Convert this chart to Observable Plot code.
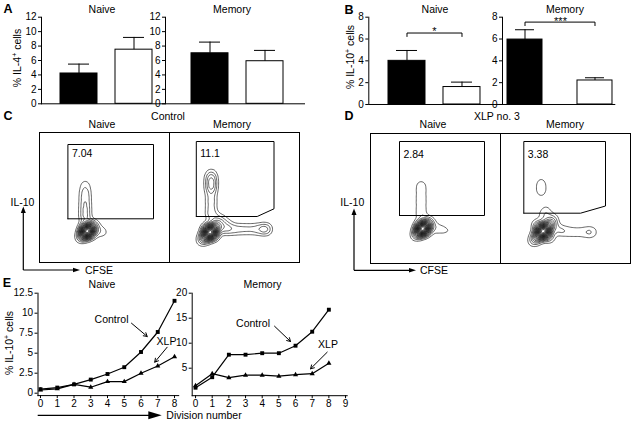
<!DOCTYPE html>
<html><head><meta charset="utf-8">
<script src="https://cdn.jsdelivr.net/npm/d3@7"></script>
<script src="https://cdn.jsdelivr.net/npm/@observablehq/plot@0.6"></script>
<style>
body{margin:0;background:#fff;}
#fig{position:relative;width:638px;height:425px;overflow:hidden;font-family:"Liberation Sans",Arial,Helvetica,sans-serif;color:#000;background:#fff;}
.t{position:absolute;font-size:10.5px;white-space:nowrap;line-height:1;transform:translate(-50%,-50%);}
.r{transform:translate(-50%,-50%) rotate(-90deg);}
.L{font-weight:bold;font-size:12.5px;}
.sup{font-size:7px;vertical-align:4px;}
</style></head><body>
<div id="fig">
<div class="t L" style="left:8px;top:9px">A</div>
<div class="t L" style="left:349px;top:9.5px">B</div>
<div class="t L" style="left:8px;top:116px">C</div>
<div class="t L" style="left:349px;top:116px">D</div>
<div class="t L" style="left:7px;top:283px">E</div>
<div class="t" style="left:102px;top:8.5px">Naive</div>
<div class="t" style="left:232px;top:8.5px">Memory</div>
<div class="t" style="left:435px;top:8.5px">Naive</div>
<div class="t" style="left:565px;top:8.5px">Memory</div>
<div class="t r" style="left:17px;top:58px">% IL-4<span class="sup">+</span> cells</div>
<div class="t r" style="left:350px;top:57px">% IL-10<span class="sup">+</span> cells</div>
<div class="t" style="left:434.5px;top:31px;font-size:11px">*</div>
<div class="t" style="left:560.5px;top:21px;font-size:11px">***</div>
<div class="t" style="left:168px;top:115.7px">Control</div>
<div class="t" style="left:102px;top:124px">Naive</div>
<div class="t" style="left:232px;top:124px">Memory</div>
<div class="t" style="left:497px;top:115.7px">XLP no. 3</div>
<div class="t" style="left:433px;top:124px">Naive</div>
<div class="t" style="left:565px;top:124px">Memory</div>
<div class="t" style="left:22.5px;top:201.7px">IL-10</div>
<div class="t" style="left:99px;top:270px">CFSE</div>
<div class="t" style="left:352.3px;top:201.7px">IL-10</div>
<div class="t" style="left:434px;top:270.3px">CFSE</div>
<div class="t" style="left:102px;top:284px">Naive</div>
<div class="t" style="left:262.5px;top:284px">Memory</div>
<div class="t r" style="left:9px;top:343px">% IL-10<span class="sup">+</span> cells</div>
<div class="t" style="left:204px;top:415px">Division number</div>
<svg width="638" height="425" style="position:absolute;left:0;top:0;overflow:visible">
 <g stroke="black" stroke-width="1.2" fill="none">
  <path d="M23.3,270 V212 M23.3,270 H74"/>
  <path d="M354,270.3 V214 M354,270.3 H410"/>
  <path d="M37.7,415.3 H150"/>
 </g>
 <g fill="black">
  <path d="M20.8,213 L23.3,206.5 L25.8,213Z"/>
  <path d="M73,267.7 L80,270 L73,272.3Z"/>
  <path d="M351.5,215 L354,208.5 L356.5,215Z"/>
  <path d="M409,268 L416,270.3 L409,272.6Z"/>
  <path d="M148.3,411.3 L161.7,415.3 L148.3,419.3Z"/>
 </g>
</svg>
</div>
<script>
// ---------- data ----------
const groups = ["Control", "XLP"];
const il4Naive = [4.2, 7.5], il4NaiveErr = [5.5, 9.2];
const il4Memory = [7.0, 5.9], il4MemoryErr = [8.55, 7.4];
const il10Naive = [4.0, 1.6], il10NaiveErr = [4.95, 2.05];
const il10Memory = [5.95, 2.2], il10MemoryErr = [6.85, 2.45];
const il4Ticks = [0, 2, 4, 6, 8, 10, 12];
const il10Ticks = [0, 2, 4, 6, 8];
const bracketNaive = 6.55, bracketMemory = 7.55;

const divisions = [0, 1, 2, 3, 4, 5, 6, 7, 8];
const naiveControl = [0.5, 0.7, 1.1, 1.7, 2.4, 3.25, 5.15, 7.65, 11.55];
const naiveXLP = [0.4, 0.55, 1.1, 0.75, 1.45, 1.45, 2.5, 3.4, 4.55];
const memoryControl = [1.1, 3.2, 7.7, 7.7, 8.0, 8.0, 9.5, 12.3, 16.7];
const memoryXLP = [1.5, 3.9, 3.1, 3.6, 3.6, 3.4, 3.7, 3.9, 6.0];
const naiveTicksY = [0, 2.5, 5, 7.5, 10, 12.5];
const memoryTicksY = [5, 10, 15, 20];
const naiveTicksX = [0, 1, 2, 3, 4, 5, 6, 7, 8];
const memoryTicksX = [0, 1, 2, 3, 4, 5, 6, 7, 8, 9];
const naiveNotes = [
  {label: "Control", lx: 4.24, ly: 9.21, x1: 5.43, y1: 8.75, x2: 6.37, y2: 7.09},
  {label: "XLP", lx: 7.52, ly: 6.5, x1: 7.56, y1: 5.75, x2: 6.82, y2: 3.88}
];
const memoryNotes = [
  {label: "Control", lx: 3.45, ly: 13.88, x1: 4.74, y1: 13.4, x2: 5.70, y2: 10.34},
  {label: "XLP", lx: 7.95, ly: 9.68, x1: 7.90, y1: 8.2, x2: 6.9, y2: 4.88}
];

// flow cytometry: representative event clusters [CFSE, IL-10, weight] (panel units)
const cNaiveEvents = [[40.9,23.9,1.0],[43.8,26.8,2.5],[45.9,28.9,4],[48,31,5],[48,31,6],[50.1,33.1,4],[52.2,35.2,2.5],[55.1,38.1,1.0],[45.2,33.8,1.5],[50.8,28.2,1.5],
  [59,31,1.3],[65,30,0.8],[78,27,0.95],
  [46,44,2.0],[46,50,1.8],[46,56,1.7],[46,62,1.6],[46,68,1.5],[46,74,1.2],[46,80,0.6]];
const cMemoryEvents = [[32.5,21.5,1.2],[35.3,24.3,2.5],[38.2,27.2,4],[41,30,5],[41,30,6],[43.8,32.8,4],[46.7,35.7,2.5],[49.5,38.5,1.2],[37.5,33.5,2],[44.5,26.5,2],
  [50,44,1.2],[57,40,1.0],
  [42,46,1.5],[42,52,1.2],[42,58,1.2],[42,64,1.4],[42,72,2.0],[42,78,2.6],[42,84,2.0],[42,89,1.0],
  [55,33,2],[62,33,1.6],[69,33,1.4],[76,33,1.3],[83,33,1.3],[90,33,1.6],[97,33,2.6]];
const dNaiveEvents = [[45.4,27.4,1.2],[48.3,30.3,2.6],[50.4,32.4,4],[52.5,34.5,5],[52.5,34.5,6],[54.6,36.6,4],[56.7,38.7,2.6],[59.6,41.6,1.2],[50,37,1.3],[55,32,1.3],
  [64,35,1.1],[70,34,0.8],[76,33,0.55],[80,32,0.35],
  [51,46,1.1],[51,52,1.0],[51,58,1.0],[51,64,1.0],[51,70,1.0],[51,76,0.9],[51,80,0.6]];
const dMemoryEvents = [[33.1,22.1,1.5],[36.6,25.6,3],[39.8,28.8,4.5],[43,32,5.5],[43,32,7],[46.2,35.2,4.5],[49.4,38.4,3],[52.9,41.9,1.5],[39,36,2.5],[47,28,2.5],[36,40,0.8],[50,24,0.8],
  [44,48,1.3],[46,54,0.8],[52,46,0.8],
  [41,70,0.9],[41,76,1.0],[41,82,0.8],
  [58,33,1.5],[65,32,1.2],[72,31,1.0],[79,31,1.0],[86,31,1.1],[92,31,1.4]];
// gates [CFSE, IL-10] vertices
const cNaiveGate = [[28.4,43.7],[28.4,118],[114,118],[114,43.7],[28.4,43.7]];
const cMemoryGate = [[26.8,46],[26.8,121],[104.5,121],[104.5,53.7],[87.7,46],[26.8,46]];
const dNaiveGate = [[29,48],[29,122],[114,122],[114,48],[29,48]];
const dMemoryGate = [[23.3,50.3],[23.3,122],[105,122],[105,57.5],[80,50.3],[23.3,50.3]];
const gateLabels = {cNaive: "7.04", cMemory: "11.1", dNaive: "2.84", dMemory: "3.38"};

// ---------- rendering ----------
const fig = document.getElementById("fig");
const FONT = '"Liberation Sans", Arial, Helvetica, sans-serif';
const baseStyle = {fontFamily: FONT, fontSize: "10px", background: "transparent", overflow: "visible", color: "black"};
function place(svg, left, top, scale) {
  Object.assign(svg.style, {position: "absolute", left: left + "px", top: top + "px", background: "transparent", overflow: "visible", maxWidth: "none"});
  if (scale) { svg.style.transform = `scale(${scale})`; svg.style.transformOrigin = "0 0"; }
  fig.appendChild(svg);
}

function barPanel(o) {
  const data = groups.map((g, i) => ({g, v: o.values[i], e: o.errs[i], fill: i === 0 ? "black" : "white"}));
  const marks = [
    Plot.barY(data, {x: "g", y: "v", fill: "fill", stroke: "black", strokeWidth: 1}),
    Plot.ruleX(data, {x: "g", y1: "v", y2: "e", stroke: "black", strokeWidth: 1}),
    Plot.tickY(data, {x: "g", y: "e", stroke: "black", strokeWidth: 1, insetLeft: 8, insetRight: 8}),
    Plot.ruleY([0], {stroke: "black", strokeWidth: 1})
  ];
  if (o.bracket != null) {
    const b = o.bracket, drop = 0.32;
    marks.push(Plot.line([{g: groups[0], y: b - drop}, {g: groups[0], y: b}, {g: groups[1], y: b}, {g: groups[1], y: b - drop}],
      {x: "g", y: "y", stroke: "black", strokeWidth: 1}));
  }
  const svg = Plot.plot({
    width: o.width, height: o.height,
    marginLeft: o.mL, marginRight: 0, marginTop: o.mT, marginBottom: o.mB,
    style: baseStyle,
    color: {type: "identity"},
    x: {domain: groups, range: o.xRange, paddingInner: o.pad, paddingOuter: 0, axis: null},
    y: {domain: [0, o.yMax], ticks: o.ticks, tickSize: 3, tickPadding: 2, label: null, line: true},
    marks
  });
  place(svg, o.left, o.top);
}

barPanel({left: 0, top: 0, width: 165, height: 110, mL: 41, mT: 16.7, mB: 6.7, yMax: 12, ticks: il4Ticks,
  values: il4Naive, errs: il4NaiveErr, xRange: [59.3, 151.7], pad: 0.332});
barPanel({left: 135, top: 0, width: 170, height: 110, mL: 30, mT: 16.7, mB: 6.7, yMax: 12, ticks: il4Ticks,
  values: il4Memory, errs: il4MemoryErr, xRange: [55, 147.7], pad: 0.336});
barPanel({left: 338, top: 0, width: 163.7, height: 110, mL: 30.3, mT: 16.7, mB: 6, yMax: 8, ticks: il10Ticks,
  values: il10Naive, errs: il10NaiveErr, xRange: [50, 143], pad: 0.324, bracket: bracketNaive});
barPanel({left: 471.7, top: 0, width: 143.3, height: 110, mL: 30, mT: 16.7, mB: 6, yMax: 8, ticks: il10Ticks,
  values: il10Memory, errs: il10MemoryErr, xRange: [35.3, 140.3], pad: 0.5, bracket: bracketMemory});

// flow panels
function flowPanel(left, top, events, gate, label) {
  const ev = events.map(([x, y, w]) => ({x, y, w}));
  const gt = gate.map(([x, y]) => ({x, y}));
  const S = 3;
  const dens = Plot.plot({
    width: 130 * S, height: 130 * S, margin: 0, style: baseStyle,
    x: {domain: [0, 130], axis: null}, y: {domain: [0, 130], axis: null},
    marks: [Plot.density(ev, {x: "x", y: "y", weight: "w", bandwidth: 3.5 * S, thresholds: 22, stroke: "black", strokeWidth: 0.6 * S})]
  });
  place(dens, left, top, 1 / S);
  const svg = Plot.plot({
    width: 130, height: 130, margin: 0, style: baseStyle,
    x: {domain: [0, 130], axis: null}, y: {domain: [0, 130], axis: null},
    marks: [
      Plot.frame({stroke: "black", strokeWidth: 1}),
      Plot.line(gt, {x: "x", y: "y", stroke: "black", strokeWidth: 1}),
      Plot.text([label], {x: gt[0].x + 4, y: 109, text: d => d, textAnchor: "start", fontSize: 10.5})
    ]
  });
  place(svg, left, top);
}
flowPanel(39.3, 132.3, cNaiveEvents, cNaiveGate, gateLabels.cNaive);
flowPanel(169, 132.3, cMemoryEvents, cMemoryGate, gateLabels.cMemory);
flowPanel(370, 132.7, dNaiveEvents, dNaiveGate, gateLabels.dNaive);
flowPanel(500, 132.7, dMemoryEvents, dMemoryGate, gateLabels.dMemory);

// division panels
function divPanel(o) {
  const ctrl = divisions.map((d, i) => ({d, v: o.control[i]}));
  const xlp = divisions.map((d, i) => ({d, v: o.xlp[i]}));
  const svg = Plot.plot({
    width: o.width, height: o.height, marginLeft: o.mL, marginRight: o.mR, marginTop: o.mT, marginBottom: o.mB,
    style: baseStyle,
    x: {domain: o.xDomain, ticks: o.xTicks, tickFormat: d => String(d), tickSize: 3, tickPadding: 1, label: null, line: true},
    y: {domain: o.yDomain, ticks: o.yTicks, tickFormat: d => String(d), tickSize: 3, tickPadding: 2, label: null, line: true},
    marks: [
      Plot.line(ctrl, {x: "d", y: "v", stroke: "black", strokeWidth: 1.2}),
      Plot.line(xlp, {x: "d", y: "v", stroke: "black", strokeWidth: 1.2}),
      Plot.dot(ctrl, {x: "d", y: "v", symbol: "square", fill: "black", r: 2.2}),
      Plot.dot(xlp, {x: "d", y: "v", symbol: "triangle", fill: "black", r: 1.9}),
      Plot.arrow(o.notes, {x1: "x1", y1: "y1", x2: "x2", y2: "y2", stroke: "black", strokeWidth: 1, headLength: 6}),
      Plot.text(o.notes, {x: "lx", y: "ly", text: "label", fontSize: 10.5})
    ]
  });
  place(svg, o.left, o.top);
}
divPanel({left: 0, top: 280, width: 182, height: 145, mL: 37.5, mR: 3.8, mT: 12.7, mB: 29.9,
  xDomain: [-0.15, 8.25], yDomain: [-0.3, 12.5], xTicks: naiveTicksX, yTicks: naiveTicksY,
  control: naiveControl, xlp: naiveXLP, notes: naiveNotes});
divPanel({left: 165, top: 280, width: 185, height: 145, mL: 26.7, mR: 3.3, mT: 12.7, mB: 29.8,
  xDomain: [-0.2, 9.1], yDomain: [-0.5, 20], xTicks: memoryTicksX, yTicks: memoryTicksY,
  control: memoryControl, xlp: memoryXLP, notes: memoryNotes});
</script>
</body></html>
